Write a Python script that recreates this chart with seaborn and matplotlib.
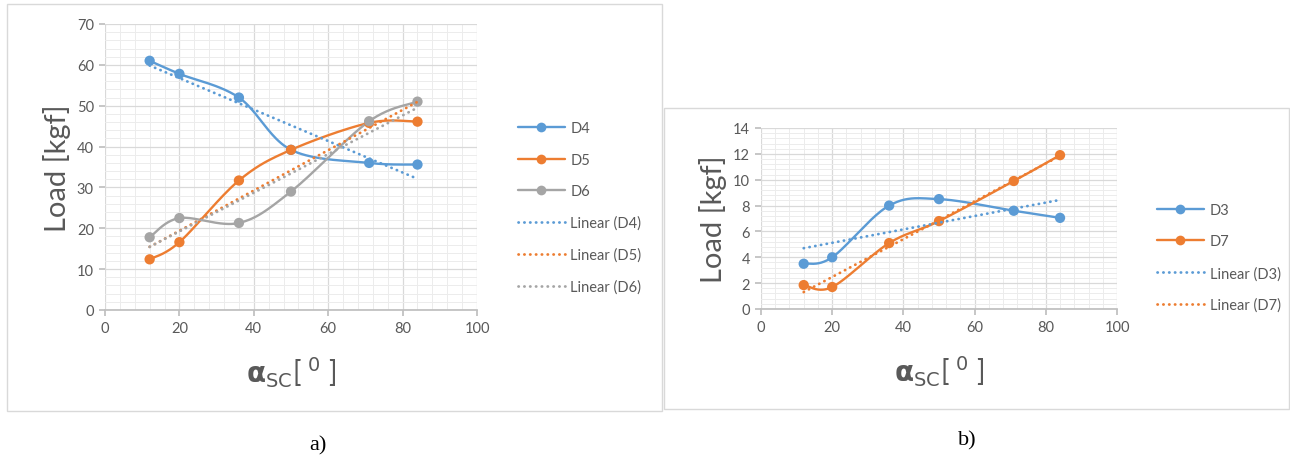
import matplotlib
matplotlib.use("Agg")
import matplotlib.pyplot as plt
from matplotlib.lines import Line2D
from matplotlib.patches import Rectangle
from matplotlib.ticker import MultipleLocator
import seaborn as sns
import numpy as np
import pandas as pd

# data
angle = [12, 20, 36, 50, 71, 84]

load_d4 = [61.0, 57.8, 52.0, 39.2, 36.0, 35.6]
load_d5 = [12.4, 16.6, 31.7, 39.2, 45.8, 46.1]
load_d6 = [17.8, 22.5, 21.3, 29.0, 46.2, 51.0]

load_d3 = [3.5, 4.0, 8.0, 8.5, 7.6, 7.05]
load_d7 = [1.85, 1.7, 5.1, 6.8, 9.9, 11.9]

series_a = ["D4", "D5", "D6"]
series_b = ["D3", "D7"]

palette = {"D4": "#5b9bd5", "D5": "#ed7d31", "D6": "#a5a5a5",
           "D3": "#5b9bd5", "D7": "#ed7d31"}

df_a = pd.DataFrame({"angle": angle * 3,
                     "load": load_d4 + load_d5 + load_d6,
                     "series": [s for s in series_a for _ in angle]})
df_b = pd.DataFrame({"angle": angle * 2,
                     "load": load_d3 + load_d7,
                     "series": [s for s in series_b for _ in angle]})

sns.set_theme(style="white")
plt.rcParams["font.family"] = ["Lato", "DejaVu Sans"]
plt.rcParams["mathtext.fontset"] = "dejavusans"

TXT = "#595959"
DOT = (0, (0.1, 2.0))
XLABEL = r"$\mathbf{\alpha}_{\mathrm{SC}}$[ $^{0}$ ]"


def smooth(ax, xs, ys, n=40):
    # Excel style smoothed line: Catmull-Rom -> Bezier in screen space
    x0, x1 = ax.get_xlim()
    y0, y1 = ax.get_ylim()
    bb = ax.get_position()
    sx = bb.width * 1290 / (x1 - x0)
    sy = bb.height * 464 / (y1 - y0)
    P = np.column_stack([np.array(xs) * sx, np.array(ys) * sy])
    P = np.vstack([P[:1], P, P[-1:]])
    out = []
    t = np.linspace(0, 1, n)[:, None]
    for i in range(1, len(P) - 2):
        p0, p1, p2, p3 = P[i - 1], P[i], P[i + 1], P[i + 2]
        c1 = p1 + (p2 - p0) / 6
        c2 = p2 - (p3 - p1) / 6
        seg = ((1 - t) ** 3) * p1 + 3 * ((1 - t) ** 2) * t * c1 \
            + 3 * (1 - t) * t ** 2 * c2 + t ** 3 * p2
        out.append(seg)
    out = np.vstack(out)
    return out[:, 0] / sx, out[:, 1] / sy


def style_axes(ax, ymax, ystep):
    ax.set_xlim(0, 100)
    ax.set_ylim(0, ymax)
    ax.xaxis.set_major_locator(MultipleLocator(20))
    ax.xaxis.set_minor_locator(MultipleLocator(4))
    ax.yaxis.set_major_locator(MultipleLocator(ystep))
    ax.yaxis.set_minor_locator(MultipleLocator(ystep / 5))
    ax.grid(which="major", color="#d9d9d9", linewidth=0.9)
    ax.grid(which="minor", color="#ececec", linewidth=0.7)
    ax.set_axisbelow(True)
    for s in ["top", "right", "left"]:
        ax.spines[s].set_visible(False)
    ax.spines["bottom"].set_color("#bfbfbf")
    ax.tick_params(which="major", length=4, color="#bfbfbf", colors=TXT,
                   labelsize=10.5, bottom=True, left=True, pad=4)
    ax.tick_params(which="minor", length=0)


def draw(ax, df, names):
    for name in names:
        d = df[df["series"] == name]
        sx, sy = smooth(ax, d["angle"].values, d["load"].values)
        sns.lineplot(x=sx, y=sy, ax=ax, color=palette[name], linewidth=1.7,
                     sort=False, estimator=None, zorder=3)
        sns.scatterplot(data=d, x="angle", y="load", ax=ax, color=palette[name],
                        s=55, edgecolor="none", zorder=4)
    for name in names:
        d = df[df["series"] == name]
        sns.regplot(data=d, x="angle", y="load", ax=ax, scatter=False, ci=None,
                    truncate=True, color=palette[name],
                    line_kws={"linestyle": DOT, "linewidth": 2.0,
                              "dash_capstyle": "round", "zorder": 5})
    ax.set_xlabel(XLABEL, fontsize=20, color=TXT, labelpad=14)
    ax.set_ylabel("Load [kgf]", fontsize=21, color=TXT, labelpad=4)


def legend(fig, names, x, y):
    handles = [Line2D([], [], color=palette[n], linewidth=1.7, marker="o",
                      markersize=7, markeredgewidth=0) for n in names]
    handles += [Line2D([], [], color=palette[n], linewidth=2.0, linestyle=DOT,
                       dash_capstyle="round") for n in names]
    labels = list(names) + [f"Linear ({n})" for n in names]
    fig.legend(handles, labels, loc="center left", bbox_to_anchor=(x, y),
               frameon=False, fontsize=10.5, labelcolor=TXT, borderpad=0,
               borderaxespad=0, handlelength=3.2, handletextpad=0.4,
               labelspacing=1.2)


fig = plt.figure(figsize=(12.9, 4.64), dpi=100)

# panel frames
fig.patches.append(Rectangle((7 / 1290, 52 / 464), 655 / 1290, 407 / 464,
                             transform=fig.transFigure, fill=False,
                             edgecolor="#d9d9d9", linewidth=1))
fig.patches.append(Rectangle((664 / 1290, 54 / 464), 625 / 1290, 301 / 464,
                             transform=fig.transFigure, fill=False,
                             edgecolor="#d9d9d9", linewidth=1))

ax1 = fig.add_axes([105 / 1290, 153 / 464, 372 / 1290, 286 / 464])
style_axes(ax1, 70, 10)
draw(ax1, df_a, series_a)

ax2 = fig.add_axes([761 / 1290, 154 / 464, 356 / 1290, 181 / 464])
style_axes(ax2, 14, 2)
draw(ax2, df_b, series_b)

legend(fig, series_a, 518 / 1290, (464 - 208.5) / 464)
legend(fig, series_b, 1157 / 1290, (464 - 258.5) / 464)

fig.text(318 / 1290, (464 - 446) / 464, "a)", family="Liberation Serif",
         fontsize=16, ha="center", va="center", color="black")
fig.text(967 / 1290, (464 - 441) / 464, "b)", family="Liberation Serif",
         fontsize=16, ha="center", va="center", color="black")

fig.savefig("out.png", dpi=100)
